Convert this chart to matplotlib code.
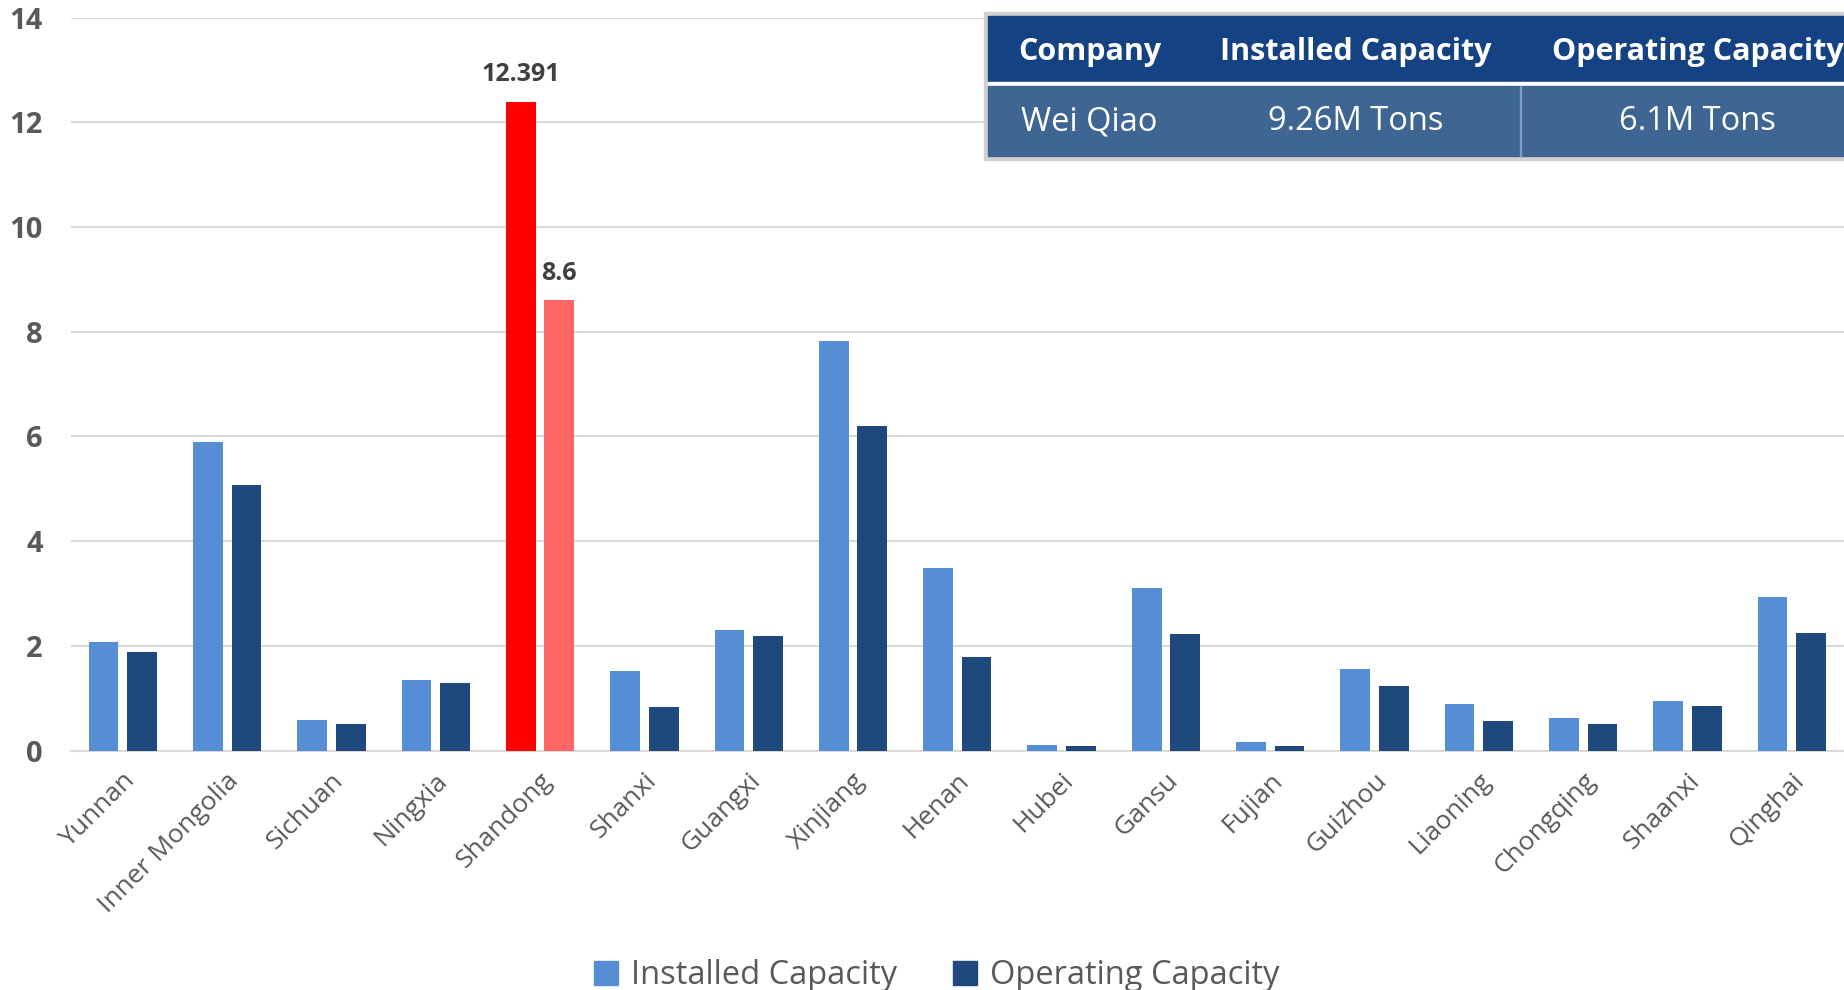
from matplotlib import pyplot as plt
from matplotlib.patches import Patch, Rectangle
import numpy as np

provinces = ["Yunnan", "Inner Mongolia", "Sichuan", "Ningxia", "Shandong", "Shanxi",
             "Guangxi", "Xinjiang", "Henan", "Hubei", "Gansu", "Fujian", "Guizhou",
             "Liaoning", "Chongqing", "Shaanxi", "Qinghai"]
installed = [2.07, 5.90, 0.58, 1.34, 12.391, 1.52, 2.30, 7.82, 3.49, 0.11, 3.10, 0.16,
             1.55, 0.89, 0.62, 0.94, 2.93]
operating = [1.89, 5.07, 0.51, 1.29, 8.6, 0.83, 2.19, 6.20, 1.79, 0.09, 2.22, 0.08,
             1.23, 0.56, 0.50, 0.85, 2.24]
highlight = "Shandong"

table_header = ["Company", "Installed Capacity", "Operating Capacity"]
table_row = ["Wei Qiao", "9.26M Tons", "6.1M Tons"]

plt.rcParams["font.family"] = ["Open Sans", "DejaVu Sans"]

C_INST = "#558ED5"
C_OPER = "#1F497D"
C_TEXT = "#595959"
W = 1844
H = 990

fig = plt.figure(figsize=(18.44, 9.9), dpi=100)
ax = fig.add_axes([70.6 / W, (H - 750.5) / H, 1 - 70.6 / W, (750.5 - 17.6) / H])

x = np.arange(len(provinces))
bw = 0.285
off = 0.185
inst_colors = ["#FF0000" if p == highlight else C_INST for p in provinces]
oper_colors = ["#FF6666" if p == highlight else C_OPER for p in provinces]
ax.bar(x - off, installed, bw, color=inst_colors, zorder=3)
ax.bar(x + off, operating, bw, color=oper_colors, zorder=3)

# value labels on the highlighted province
i = provinces.index(highlight)
ax.text(i - off, installed[i] + 0.28, f"{installed[i]:g}", ha="center", va="bottom",
        fontsize=18, fontweight="bold", color="#404040")
ax.text(i + off, operating[i] + 0.28, f"{operating[i]:g}", ha="center", va="bottom",
        fontsize=18, fontweight="bold", color="#404040")

ax.set_xlim(-0.5, len(provinces) - 0.5)
ax.set_ylim(0, 14)
ax.set_yticks(range(0, 15, 2))
ax.yaxis.grid(True, color="#D9D9D9", linewidth=1.5, zorder=0)
for s in ["top", "right", "left"]:
    ax.spines[s].set_visible(False)
ax.spines["bottom"].set_color("#D9D9D9")
ax.spines["bottom"].set_linewidth(1.5)
ax.tick_params(axis="y", length=0, pad=20, labelsize=21, labelcolor=C_TEXT)
ax.tick_params(axis="x", length=0, pad=19, labelsize=19, labelcolor=C_TEXT)
for t in ax.get_yticklabels():
    t.set_fontweight("bold")
ax.set_xticks(x + 0.08)
ax.set_xticklabels(provinces, rotation=45, ha="right", va="center", rotation_mode="anchor")

fig.legend(handles=[Patch(color=C_INST, label="Installed Capacity"),
                    Patch(color=C_OPER, label="Operating Capacity")],
           loc="lower center", bbox_to_anchor=(0.508, -0.032), ncol=2, frameon=False,
           fontsize=23.5, handlelength=0.75, handleheight=0.75, handletextpad=0.4,
           columnspacing=1.7, labelcolor=C_TEXT)

# company table in the top right corner
def fx(px):
    return px / W

def fy(py):
    return (H - py) / H

col_edges = [988, 1191, 1520, 1875]
fig.patches.append(Rectangle((fx(984), fy(160)), fx(900), (160 - 12) / H,
                             transform=fig.transFigure, color="#D0D0D0", zorder=5))
fig.patches.append(Rectangle((fx(988), fy(82)), fx(890), (82 - 16) / H,
                             transform=fig.transFigure, color="#144282", zorder=6))
fig.patches.append(Rectangle((fx(988), fy(86)), fx(890), 4 / H,
                             transform=fig.transFigure, color="white", zorder=6))
fig.patches.append(Rectangle((fx(988), fy(156)), fx(890), (156 - 86) / H,
                             transform=fig.transFigure, color="#3F6593", zorder=6))
fig.patches.append(Rectangle((fx(1519.5), fy(156)), fx(1), (156 - 86) / H,
                             transform=fig.transFigure, color="#7F9BC0", zorder=7))
for k in range(3):
    cx = fx((col_edges[k] + col_edges[k + 1]) / 2)
    fig.text(cx, fy(52), table_header[k], ha="center", va="center", color="white",
             fontsize=22, fontweight="bold", zorder=8)
    fig.text(cx, fy(122), table_row[k], ha="center", va="center", color="white",
             fontsize=23.5, zorder=8)

plt.savefig("out.png")
